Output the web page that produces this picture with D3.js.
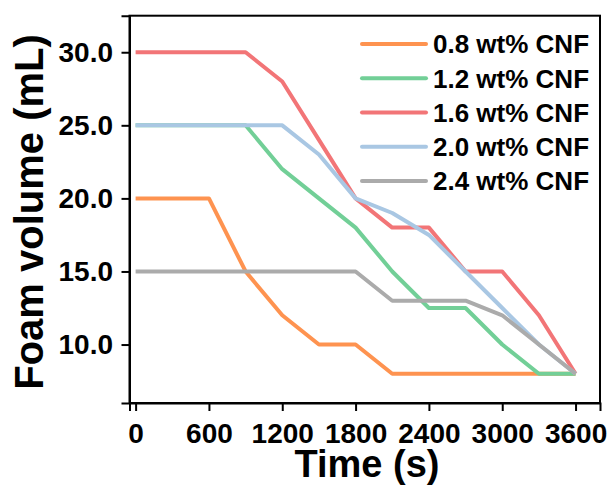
<!DOCTYPE html>
<html>
<head>
<meta charset="utf-8">
<script src="https://cdn.jsdelivr.net/npm/d3@7"></script>
<style>
  html, body { margin: 0; padding: 0; background: #fff; }
  svg { display: block; }
  text { font-family: "Liberation Sans", Arial, sans-serif; font-weight: bold; fill: #000; }
</style>
</head>
<body>
<svg id="chart" width="615" height="487"></svg>
<script>
// Foam decay over time for different CNF loadings
const times = [0, 300, 600, 900, 1200, 1500, 1800, 2100, 2400, 2700, 3000, 3300, 3600];

const seriesNames = ["0.8 wt% CNF", "1.2 wt% CNF", "1.6 wt% CNF", "2.0 wt% CNF", "2.4 wt% CNF"];
const seriesColors = ["#FE9350", "#72CF97", "#F27577", "#A9C7E3", "#ABABAB"];

const cnf08 = [20, 20, 20, 15, 12, 10, 10, 8, 8, 8, 8, 8, 8];
const cnf12 = [25, 25, 25, 25, 22, 20, 18, 15, 12.5, 12.5, 10, 8, 8];
const cnf16 = [30, 30, 30, 30, 28, 24, 20, 18, 18, 15, 15, 12, 8];
const cnf20 = [25, 25, 25, 25, 25, 23, 20, 19, 17.5, 15, 12.5, 10, 8];
const cnf24 = [15, 15, 15, 15, 15, 15, 15, 13, 13, 13, 12, 10, 8];
const seriesValues = [cnf08, cnf12, cnf16, cnf20, cnf24];

const xMajorTicks = [0, 600, 1200, 1800, 2400, 3000, 3600];
const xMinorTicks = [300, 900, 1500, 2100, 2700, 3300];
const yMajorTicks = [10, 15, 20, 25, 30];
const yMinorTicks = [7.5, 12.5, 17.5, 22.5, 27.5];

const xTitle = "Time (s)";
const yTitle = "Foam volume (mL)";

const svg = d3.select("#chart");
const plotLeft = 129.5, plotRight = 600, plotTop = 15.7, plotBottom = 403;

const x = d3.scaleLinear().domain([-50, 3800]).range([plotLeft, plotRight]);
const y = d3.scaleLinear().domain([6, 32.5]).range([plotBottom, plotTop]);

// frame (top and right edges)
svg.append("rect")
  .attr("x", plotLeft).attr("y", plotTop)
  .attr("width", plotRight - plotLeft).attr("height", plotBottom - plotTop)
  .attr("fill", "none").attr("stroke", "#000").attr("stroke-width", 2);

// lines
const line = d3.line().x((d, i) => x(times[i])).y(d => y(d));
seriesValues.forEach((vals, k) => {
  svg.append("path")
    .datum(vals)
    .attr("d", line)
    .attr("fill", "none")
    .attr("stroke", seriesColors[k])
    .attr("stroke-width", 4)
    .attr("stroke-linejoin", "round");
});

// x axis
const xAxis = svg.append("g").attr("transform", `translate(0,${plotBottom})`);
xAxis.call(d3.axisBottom(x).tickValues(xMinorTicks).tickSize(5).tickFormat(""));
xAxis.call(d3.axisBottom(x).tickValues(xMajorTicks).tickSize(8).tickPadding(12).tickFormat(d3.format("d")));
xAxis.selectAll(".domain").attr("stroke-width", 2);
xAxis.selectAll(".tick line").attr("stroke-width", 2);
xAxis.selectAll("text").attr("font-size", 28).style("font-family", "Liberation Sans, Arial, sans-serif").style("font-weight", "bold");

// y axis
const yAxis = svg.append("g").attr("transform", `translate(${plotLeft},0)`);
yAxis.call(d3.axisLeft(y).tickValues(yMinorTicks).tickSize(5).tickFormat(""));
yAxis.call(d3.axisLeft(y).tickValues(yMajorTicks).tickSize(8).tickPadding(8.5).tickFormat(d3.format(".1f")));
yAxis.selectAll(".domain").attr("stroke-width", 2);
yAxis.selectAll(".tick line").attr("stroke-width", 2);
yAxis.selectAll("text").attr("font-size", 28).style("font-family", "Liberation Sans, Arial, sans-serif").style("font-weight", "bold");

// axis titles
svg.append("text")
  .attr("x", 367).attr("y", 477)
  .attr("text-anchor", "middle")
  .attr("font-size", 38)
  .text(xTitle);

svg.append("text")
  .attr("transform", "translate(43,212) rotate(-90)")
  .attr("text-anchor", "middle")
  .attr("font-size", 40)
  .text(yTitle);

// legend
const legend = svg.append("g");
seriesNames.forEach((name, k) => {
  const ly = 44 + k * 34.25;
  legend.append("line")
    .attr("x1", 362).attr("x2", 426)
    .attr("y1", ly).attr("y2", ly)
    .attr("stroke", seriesColors[k])
    .attr("stroke-width", 4)
    .attr("stroke-linecap", "round");
  legend.append("text")
    .attr("x", 433).attr("y", ly)
    .attr("dy", "0.36em")
    .attr("font-size", 26)
    .text(name);
});
</script>
</body>
</html>
